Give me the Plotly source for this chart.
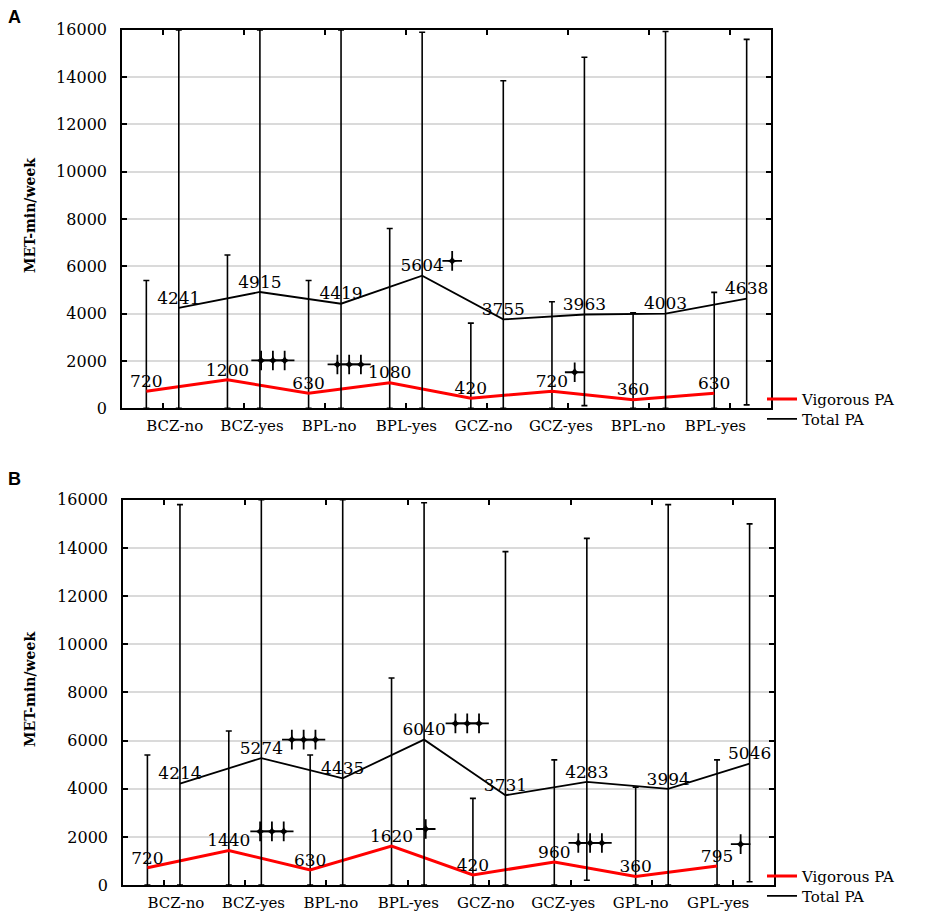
import plotly.graph_objects as go

# ---------------- data ----------------
categories_a = ["BCZ-no", "BCZ-yes", "BPL-no", "BPL-yes", "GCZ-no", "GCZ-yes", "BPL-no", "BPL-yes"]
categories_b = ["BCZ-no", "BCZ-yes", "BPL-no", "BPL-yes", "GCZ-no", "GCZ-yes", "GPL-no", "GPL-yes"]

vig_a = [720, 1200, 630, 1080, 420, 720, 360, 630]
vig_a_upper = [5400, 6480, 5400, 7600, 3600, 4500, 4030, 4900]
vig_a_lower = [0, 0, 0, 0, 0, 0, 0, 0]
tot_a = [4241, 4915, 4419, 5604, 3755, 3963, 4003, 4638]
tot_a_upper = [16000, 16000, 16000, 15900, 13850, 14840, 15930, 15600]
tot_a_lower = [0, 0, 0, 0, 0, 110, 0, 140]

vig_b = [720, 1440, 630, 1620, 420, 960, 360, 795]
vig_b_upper = [5400, 6400, 5400, 8600, 3600, 5200, 4070, 5200]
vig_b_lower = [0, 0, 0, 0, 0, 0, 0, 0]
tot_b = [4214, 5274, 4435, 6040, 3731, 4283, 3994, 5046]
tot_b_upper = [15800, 16000, 16000, 15880, 13850, 14400, 15800, 15000]
tot_b_lower = [0, 0, 0, 0, 0, 200, 0, 140]

# significance markers: centre (data coordinates) and number of stars
sig_a_x = [2.36, 3.30, 4.57, 6.08]
sig_a_y = [2020, 1850, 6230, 1520]
sig_a_count = [3, 3, 1, 1]
sig_b_x = [2.33, 2.72, 4.22, 4.73, 6.24, 8.09]
sig_b_y = [2230, 6040, 2330, 6715, 1750, 1700]
sig_b_count = [3, 3, 1, 3, 3, 1]

y_ticks = [0, 2000, 4000, 6000, 8000, 10000, 12000, 14000, 16000]

# ---------------- styling ----------------
SERIF = "DejaVu Serif"
OFF = 0.2
STAR_STEP = 0.145
LABEL_START, LABEL_STEP = 1.15, 0.952   # category label placement (Statistica-like)
W, H = 935, 913

fig = go.Figure()


def add_panel(xa, ya, leg_v, leg_t, vig, vup, vlo, tot, tup, tlo, sx, sy, sc):
    n = len(vig)
    xv = [i + 1 - OFF for i in range(n)]
    xt = [i + 1 + OFF for i in range(n)]
    fig.add_trace(go.Scatter(
        x=xv, y=vig, mode="lines+text", name="Vigorous PA",
        text=[str(v) for v in vig], textposition="top center",
        textfont=dict(family=SERIF, size=17, color="black"),
        line=dict(color="#ff0000", width=3),
        error_y=dict(type="data", symmetric=False,
                     array=[u - v for u, v in zip(vup, vig)],
                     arrayminus=[v - l for v, l in zip(vig, vlo)],
                     color="black", thickness=1.6, width=3),
        xaxis=xa, yaxis=ya, legend=leg_v, cliponaxis=True))
    fig.add_trace(go.Scatter(
        x=xt, y=tot, mode="lines+text", name="Total PA",
        text=[str(v) for v in tot], textposition="top center",
        textfont=dict(family=SERIF, size=17, color="black"),
        line=dict(color="black", width=1.8),
        error_y=dict(type="data", symmetric=False,
                     array=[u - v for u, v in zip(tup, tot)],
                     arrayminus=[v - l for v, l in zip(tot, tlo)],
                     color="black", thickness=1.6, width=3),
        xaxis=xa, yaxis=ya, legend=leg_t, cliponaxis=True))
    px, py = [], []
    for cx, cy, c in zip(sx, sy, sc):
        for k in range(c):
            px.append(cx + (k - (c - 1) / 2) * STAR_STEP)
            py.append(cy)
    fig.add_trace(go.Scatter(
        x=px, y=py, mode="markers",
        marker=dict(symbol="cross-thin", size=14, color="black",
                    line=dict(width=1.8, color="black")),
        showlegend=False, xaxis=xa, yaxis=ya, hoverinfo="skip"))
    fig.add_trace(go.Scatter(
        x=px, y=py, mode="markers",
        marker=dict(symbol="star-diamond", size=7, color="black", line=dict(width=0)),
        showlegend=False, xaxis=xa, yaxis=ya, hoverinfo="skip"))


add_panel("x", "y", "legend", "legend2", vig_a, vig_a_upper, vig_a_lower,
          tot_a, tot_a_upper, tot_a_lower, sig_a_x, sig_a_y, sig_a_count)
add_panel("x2", "y2", "legend3", "legend4", vig_b, vig_b_upper, vig_b_lower,
          tot_b, tot_b_upper, tot_b_lower, sig_b_x, sig_b_y, sig_b_count)


def xaxis_cfg(domain, anchor, cats):
    n = len(cats)
    return dict(domain=domain, anchor=anchor, range=[0.5, 8.5],
                tickmode="array",
                tickvals=[LABEL_START + LABEL_STEP * i for i in range(n)], ticktext=cats,
                ticks="inside", ticklen=0, tickwidth=0, tickcolor="black",
                minor=dict(tickmode="array", tickvals=list(range(1, n + 1)),
                           ticks="inside", ticklen=5, tickwidth=1.5, tickcolor="black",
                           showgrid=False),
                showline=True, linecolor="black", linewidth=1.6, mirror="ticks",
                showgrid=False, zeroline=False, automargin=False,
                tickfont=dict(family=SERIF, size=15, color="black"),
                ticklabelstandoff=3)


def yaxis_cfg(domain, anchor):
    return dict(domain=domain, anchor=anchor, range=[0, 16000],
                tickmode="array", tickvals=y_ticks, tickformat="d",
                ticks="inside", ticklen=5, tickwidth=1.5, tickcolor="black",
                showline=True, linecolor="black", linewidth=1.6, mirror="ticks",
                showgrid=True, gridcolor="#dadada", gridwidth=1.6,
                zeroline=False, automargin=False,
                tickfont=dict(family=SERIF, size=16, color="black"),
                ticklabelstandoff=10)


def legend_cfg(y_center):
    return dict(x=762 / W, y=1 - y_center / H, xanchor="left", yanchor="middle",
                bgcolor="rgba(0,0,0,0)", font=dict(family=SERIF, size=15, color="black"),
                itemwidth=30, tracegroupgap=0)


fig.update_layout(
    width=W, height=H,
    margin=dict(l=0, r=0, t=0, b=0),
    paper_bgcolor="white", plot_bgcolor="white",
    xaxis=xaxis_cfg([122 / W, 771 / W], "y", categories_a),
    yaxis=yaxis_cfg([1 - 410 / H, 1 - 30 / H], "x"),
    xaxis2=xaxis_cfg([123 / W, 774 / W], "y2", categories_b),
    yaxis2=yaxis_cfg([1 - 889 / H, 1 - 502 / H], "x2"),
    legend=legend_cfg(401),
    legend2=legend_cfg(421),
    legend3=legend_cfg(880),
    legend4=legend_cfg(900),
    showlegend=True,
    annotations=[
        dict(text="<b>A</b>", x=6 / W, y=1 - 5 / H, xref="paper", yref="paper",
             xanchor="left", yanchor="top", showarrow=False,
             font=dict(family="Liberation Sans", size=18, color="black")),
        dict(text="<b>B</b>", x=6 / W, y=1 - 469 / H, xref="paper", yref="paper",
             xanchor="left", yanchor="top", showarrow=False,
             font=dict(family="Liberation Sans", size=18, color="black")),
        dict(text="<b>MET-min/week</b>", x=30 / W, y=1 - 217 / H, xref="paper", yref="paper",
             xanchor="center", yanchor="middle", showarrow=False, textangle=-90,
             font=dict(family=SERIF, size=14, color="black")),
        dict(text="<b>MET-min/week</b>", x=30 / W, y=1 - 693 / H, xref="paper", yref="paper",
             xanchor="center", yanchor="middle", showarrow=False, textangle=-90,
             font=dict(family=SERIF, size=14, color="black")),
    ],
)

fig.write_html(
    "out.html",
    config={"displayModeBar": False},
    post_script="document.body.style.margin='0';document.body.style.overflow='hidden';",
)
